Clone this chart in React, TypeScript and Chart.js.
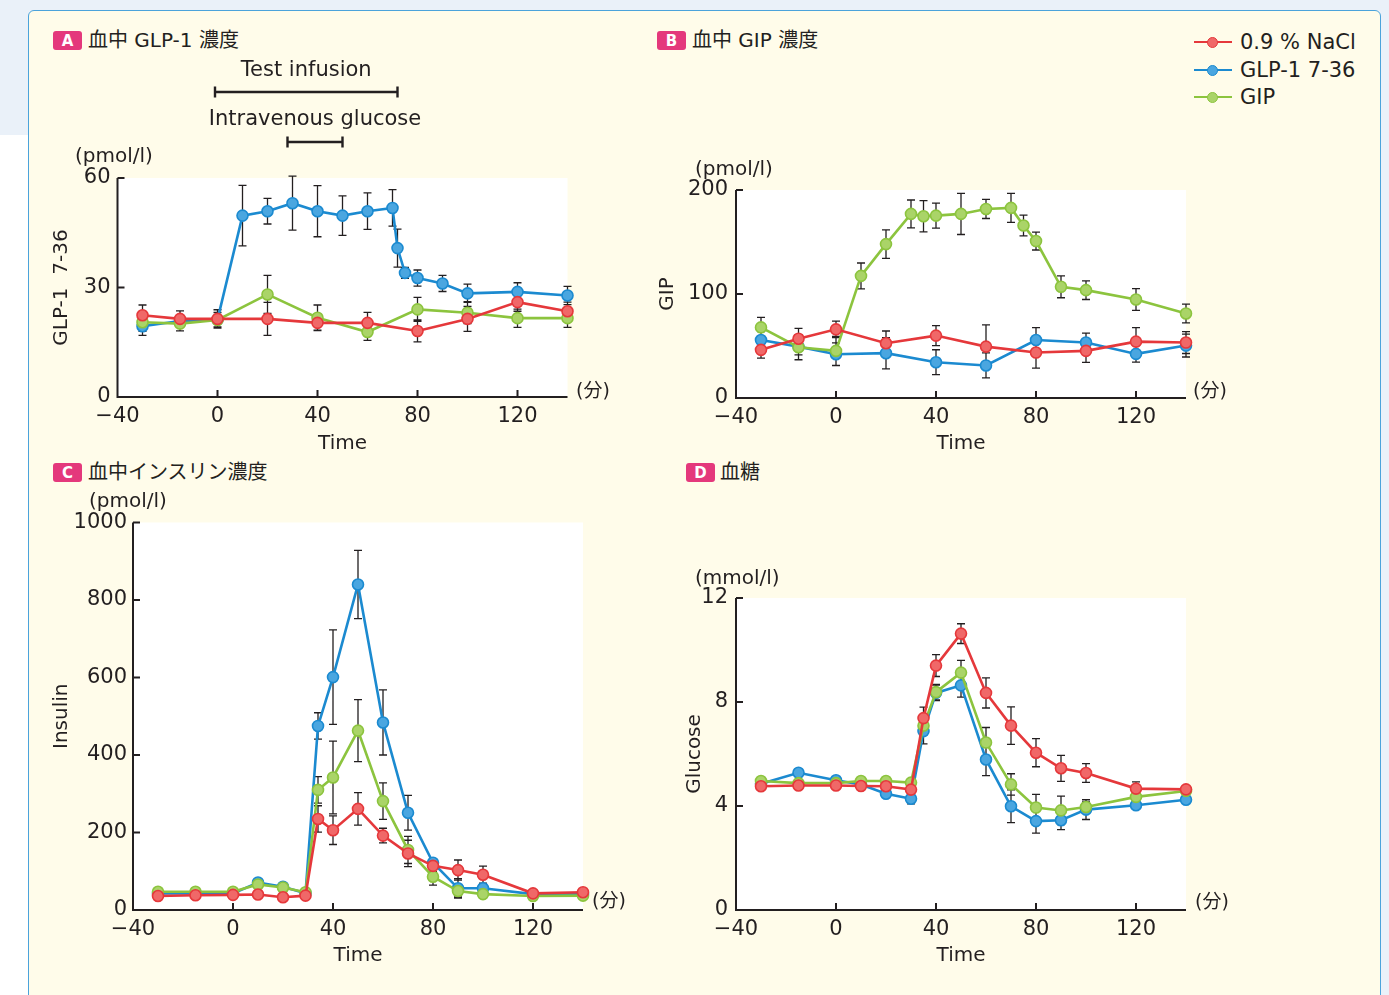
import React, { useEffect, useRef } from "react";
import { Chart, registerables } from "chart.js";

Chart.register(...registerables);

const FONT = '"DejaVu Sans", "Noto Sans CJK JP", sans-serif';
const INK = "#231f20";

const RED = "#e5383b";
const RED_FILL = "#f06868";
const BLUE = "#1b8ad0";
const BLUE_FILL = "#4aa6e0";
const GREEN = "#8cc43e";
const GREEN_FILL = "#aad468";

const seriesLabels = ["0.9 % NaCl", "GLP-1 7-36", "GIP"];
const xTickValues = [-40, 0, 40, 80, 120];
const X_MIN = -40;
const X_MAX = 140;

// ---- Panel A: GLP-1 ----
const aTimesNacl = [-30, -15, 0, 20, 40, 60, 80, 100, 120, 140];
const aNacl = [22.4, 21.4, 21.4, 21.4, 20.3, 20.3, 18.1, 21.4, 26.0, 23.5];
const aNaclErr = [2.8, 2.2, 2.5, 4.5, 2, 2.9, 3, 3.4, 2.5, 2.5];
const aTimesGlp = [-30, -15, 0, 10, 20, 30, 40, 50, 60, 70, 72, 75, 80, 90, 100, 120, 140];
const aGlp = [19.4, 20.8, 21.2, 49.7, 50.9, 53.1, 50.9, 49.7, 50.9, 51.8, 40.8, 34.0, 32.6, 31.1, 28.4, 28.8, 27.8];
const aGlpErr = [2.5, 1.5, 2, 8.3, 3.5, 7.4, 7, 5.4, 5, 5, 5.2, 1.5, 2.2, 2.2, 2.5, 2.5, 2.5];
const aTimesGip = [-30, -15, 0, 20, 40, 60, 80, 100, 120, 140];
const aGip = [20.5, 20.1, 21.1, 28.1, 21.7, 17.8, 24.0, 23.1, 21.6, 21.6];
const aGipErr = [2.5, 2, 2, 5.2, 3.5, 2.3, 3.3, 3, 2.5, 2.5];
const aYTicks = [0, 30, 60];
const testInfusion = [-1, 72];
const ivGlucose = [28, 50];

// ---- Panel B: GIP ----
const bTimesNacl = [-30, -15, 0, 20, 40, 60, 80, 100, 120, 140];
const bNacl = [46.3, 57, 66, 52.6, 60, 49.4, 43.7, 45.3, 54.2, 53.3];
const bNaclErr = [8, 10, 8, 11.8, 9.6, 21, 15, 11, 13.4, 10.5];
const bTimesGlp = [-30, -15, 0, 20, 40, 60, 80, 100, 120, 140];
const bGlp = [55.8, 49.4, 42.1, 43.1, 34.4, 31.3, 55.8, 53.3, 42.4, 50.4];
const bGlpErr = [8, 8, 11, 15, 12, 12, 11.8, 9, 8, 11];
const bTimesGip = [-30, -15, 0, 10, 20, 30, 35, 40, 50, 60, 70, 75, 80, 90, 100, 120, 140];
const bGip = [67.9, 48.8, 45.3, 117.4, 148, 177, 174.8, 175.4, 177, 181.8, 182.8, 165.9, 150.9, 106.9, 103.7, 94.7, 81.3];
const bGipErr = [9.6, 12, 14, 12.4, 13.7, 13.4, 15, 12, 19.8, 9.2, 14, 10, 8.6, 10.5, 9, 10.5, 9];
const bYTicks = [0, 100, 200];

// ---- Panel C: Insulin ----
const cTimes = [-30, -15, 0, 10, 20, 29, 34, 40, 50, 60, 70, 80, 90, 100, 120, 140];
const cNacl = [36, 38, 39, 40, 33, 37, 235, 206, 261, 192, 146, 114, 103, 91, 43, 46];
const cNaclErr = [5, 5, 5, 10, 10, 5, 34, 37, 42, 19, 34, 15, 26, 22, 5, 5];
const cGlp = [43, 43, 43, 71, 60, 43, 475, 601, 840, 484, 251, 122, 56, 56, 41, 41];
const cGlpErr = [5, 5, 5, 10, 10, 5, 34, 122, 88, 84, 45, 10, 25, 10, 5, 5];
const cGip = [47, 47, 47, 66, 58, 46, 310, 342, 463, 281, 155, 86, 49, 41, 36, 37];
const cGipErr = [8, 8, 8, 10, 10, 8, 34, 94, 80, 47, 35, 22, 15, 10, 5, 5];
const cYTicks = [0, 200, 400, 600, 800, 1000];

// ---- Panel D: Glucose ----
const dTimes = [-30, -15, 0, 10, 20, 30, 35, 40, 50, 60, 70, 80, 90, 100, 120, 140];
const dNacl = [4.76, 4.79, 4.79, 4.77, 4.76, 4.63, 7.38, 9.4, 10.63, 8.35, 7.09, 6.05, 5.45, 5.27, 4.67, 4.64];
const dNaclErr = [0.08, 0.08, 0.08, 0.08, 0.3, 0.1, 0.42, 0.42, 0.38, 0.58, 0.72, 0.54, 0.5, 0.36, 0.26, 0.12];
const dGlp = [4.86, 5.28, 4.99, 4.83, 4.47, 4.28, 6.88, 8.35, 8.64, 5.79, 3.99, 3.42, 3.45, 3.86, 4.03, 4.24];
const dGlpErr = [0.08, 0.08, 0.08, 0.08, 0.1, 0.2, 0.49, 0.3, 0.45, 0.62, 0.63, 0.46, 0.36, 0.38, 0.1, 0.1];
const dGip = [4.96, 4.88, 4.88, 4.96, 4.96, 4.9, 7.09, 8.38, 9.13, 6.44, 4.83, 3.94, 3.83, 3.96, 4.35, 4.58];
const dGipErr = [0.08, 0.08, 0.08, 0.08, 0.1, 0.1, 0.35, 0.3, 0.47, 0.58, 0.41, 0.51, 0.55, 0.2, 0.2, 0.1];
const dYTicks = [0, 4, 8, 12];

function makeDataset(label: string, times: number[], values: number[], errors: number[], color: string, fill: string) {
  return {
    label,
    data: times.map((t, i) => ({ x: t, y: values[i] })),
    errors,
    borderColor: color,
    backgroundColor: fill,
    pointBackgroundColor: fill,
    pointBorderColor: color,
    pointRadius: 5.5,
    pointHoverRadius: 5.5,
    pointBorderWidth: 1.6,
    borderWidth: 2.6,
    tension: 0,
    clip: false as any,
  };
}

const decorPlugin = {
  id: "decor",
  beforeDraw(chart: any) {
    const { ctx, chartArea: ca } = chart;
    ctx.save();
    ctx.fillStyle = "#ffffff";
    ctx.fillRect(ca.left, ca.top, ca.right - ca.left, ca.bottom - ca.top);
    ctx.restore();
  },
  beforeDatasetsDraw(chart: any, _args: any, opts: any) {
    const { ctx, chartArea: ca } = chart;
    const x = chart.scales.x;
    const y = chart.scales.y;
    ctx.save();
    ctx.strokeStyle = INK;
    ctx.lineWidth = 2;
    ctx.beginPath();
    ctx.moveTo(ca.left, ca.top);
    ctx.lineTo(ca.left, ca.bottom);
    ctx.lineTo(ca.right, ca.bottom);
    for (const v of xTickValues) {
      if (v > X_MIN) {
        const px = x.getPixelForValue(v);
        ctx.moveTo(px, ca.bottom);
        ctx.lineTo(px, ca.bottom - 7);
      }
    }
    for (const v of opts.yTicks || []) {
      if (v > y.min) {
        const py = y.getPixelForValue(v);
        ctx.moveTo(ca.left, py);
        ctx.lineTo(ca.left + 7, py);
      }
    }
    ctx.stroke();
    // error bars
    ctx.lineWidth = 1.3;
    ctx.beginPath();
    chart.data.datasets.forEach((ds: any) => {
      ds.data.forEach((p: any, j: number) => {
        const e = ds.errors[j];
        const px = x.getPixelForValue(p.x);
        const t = y.getPixelForValue(p.y + e);
        const b = y.getPixelForValue(p.y - e);
        ctx.moveTo(px, t);
        ctx.lineTo(px, b);
        ctx.moveTo(px - 4, t);
        ctx.lineTo(px + 4, t);
        ctx.moveTo(px - 4, b);
        ctx.lineTo(px + 4, b);
      });
    });
    ctx.stroke();
    ctx.restore();
  },
  afterDraw(chart: any, _args: any, opts: any) {
    const { ctx } = chart;
    const x = chart.scales.x;
    ctx.save();
    ctx.fillStyle = INK;
    ctx.textBaseline = "middle";
    for (const t of opts.texts || []) {
      ctx.font = `${t.size}px ${FONT}`;
      ctx.textAlign = t.align || "left";
      ctx.fillText(t.text, t.x, t.y);
    }
    for (const s of opts.spans || []) {
      const x0 = x.getPixelForValue(s.range[0]);
      const x1 = x.getPixelForValue(s.range[1]);
      ctx.strokeStyle = INK;
      ctx.lineWidth = 2.4;
      ctx.beginPath();
      ctx.moveTo(x0, s.y);
      ctx.lineTo(x1, s.y);
      ctx.moveTo(x0, s.y - 5.5);
      ctx.lineTo(x0, s.y + 5.5);
      ctx.moveTo(x1, s.y - 5.5);
      ctx.lineTo(x1, s.y + 5.5);
      ctx.stroke();
      ctx.font = `21px ${FONT}`;
      ctx.textAlign = "center";
      ctx.fillText(s.label, (x0 + x1) / 2, s.labelY);
    }
    ctx.restore();
  },
};

type PanelSpec = {
  w: number;
  h: number;
  area: { left: number; top: number; right: number; bottom: number };
  datasets: any[];
  yMax: number;
  yTicks: number[];
  yTitle: string;
  yTitlePad: number;
  xTitlePad: number;
  yLabelPad: number;
  texts: any[];
  spans?: any[];
};

function buildConfig(p: PanelSpec): any {
  const tickFont = { family: FONT, size: 21 };
  const titleFont = { family: FONT, size: 20 };
  return {
    type: "line",
    data: { datasets: p.datasets },
    plugins: [decorPlugin],
    options: {
      animation: false,
      responsive: false,
      maintainAspectRatio: false,
      events: [],
      layout: { padding: { left: 0, top: p.area.top, right: p.w - p.area.right, bottom: 0 } },
      plugins: {
        legend: { display: false },
        tooltip: { enabled: false },
        decor: { yTicks: p.yTicks, texts: p.texts, spans: p.spans || [] },
      },
      scales: {
        x: {
          type: "linear",
          min: X_MIN,
          max: X_MAX,
          afterBuildTicks: (s: any) => {
            s.ticks = xTickValues.map((v) => ({ value: v }));
          },
          afterFit: (s: any) => {
            s.height = p.h - p.area.bottom;
          },
          grid: { display: false, drawTicks: false },
          border: { display: false },
          ticks: {
            font: tickFont,
            color: INK,
            padding: 7,
            maxRotation: 0,
            autoSkip: false,
            callback: (v: any) => (v < 0 ? "\u2212" + Math.abs(v) : String(v)),
          },
          title: { display: true, text: "Time", font: titleFont, color: INK, padding: { top: 0, bottom: p.xTitlePad } },
        },
        y: {
          type: "linear",
          min: 0,
          max: p.yMax,
          afterBuildTicks: (s: any) => {
            s.ticks = p.yTicks.map((v) => ({ value: v }));
          },
          afterFit: (s: any) => {
            s.width = p.area.left;
          },
          grid: { display: false, drawTicks: false },
          border: { display: false },
          ticks: {
            font: tickFont,
            color: INK,
            padding: p.yLabelPad,
            autoSkip: false,
            callback: (v: any) => String(v),
          },
          title: { display: true, text: p.yTitle, font: titleFont, color: INK, padding: { top: p.yTitlePad, bottom: 0 } },
        },
      },
    },
  };
}

function ChartCanvas({ left, top, spec }: { left: number; top: number; spec: PanelSpec }) {
  const ref = useRef<HTMLCanvasElement>(null);
  useEffect(() => {
    const chart = new Chart(ref.current as HTMLCanvasElement, buildConfig(spec));
    return () => chart.destroy();
  }, []);
  return (
    <canvas
      ref={ref}
      width={spec.w}
      height={spec.h}
      style={{ position: "absolute", left, top, width: spec.w, height: spec.h }}
    />
  );
}

const specA: PanelSpec = {
  w: 600,
  h: 410,
  area: { left: 77.5, top: 128, right: 527.5, bottom: 347 },
  datasets: [
    makeDataset(seriesLabels[0], aTimesNacl, aNacl, aNaclErr, RED, RED_FILL),
    makeDataset(seriesLabels[2], aTimesGip, aGip, aGipErr, GREEN, GREEN_FILL),
    makeDataset(seriesLabels[1], aTimesGlp, aGlp, aGlpErr, BLUE, BLUE_FILL),
  ],
  yMax: 60,
  yTicks: aYTicks,
  yTitle: "GLP-1  7-36",
  yTitlePad: 10,
  xTitlePad: 4,
  yLabelPad: 7,
  texts: [
    { text: "(pmol/l)", x: 35, y: 107, size: 20 },
    { text: "(分)", x: 536, y: 342, size: 19 },
  ],
  spans: [
    { range: testInfusion, y: 42, label: "Test infusion", labelY: 21 },
    { range: ivGlucose, y: 92, label: "Intravenous glucose", labelY: 70 },
  ],
};

const specB: PanelSpec = {
  w: 600,
  h: 320,
  area: { left: 86, top: 50, right: 536, bottom: 258 },
  datasets: [
    makeDataset(seriesLabels[0], bTimesNacl, bNacl, bNaclErr, RED, RED_FILL),
    makeDataset(seriesLabels[2], bTimesGip, bGip, bGipErr, GREEN, GREEN_FILL),
    makeDataset(seriesLabels[1], bTimesGlp, bGlp, bGlpErr, BLUE, BLUE_FILL),
  ],
  yMax: 200,
  yTicks: bYTicks,
  yTitle: "GIP",
  yTitlePad: 6,
  xTitlePad: 4,
  yLabelPad: 8,
  texts: [
    { text: "(pmol/l)", x: 45, y: 30, size: 20 },
    { text: "(分)", x: 543, y: 252, size: 19 },
  ],
};

const specC: PanelSpec = {
  w: 600,
  h: 495,
  area: { left: 93, top: 42.5, right: 543, bottom: 430 },
  datasets: [
    makeDataset(seriesLabels[0], cTimes, cNacl, cNaclErr, RED, RED_FILL),
    makeDataset(seriesLabels[2], cTimes, cGip, cGipErr, GREEN, GREEN_FILL),
    makeDataset(seriesLabels[1], cTimes, cGlp, cGlpErr, BLUE, BLUE_FILL),
  ],
  yMax: 1000,
  yTicks: cYTicks,
  yTitle: "Insulin",
  yTitlePad: 10,
  xTitlePad: 7,
  yLabelPad: 6,
  texts: [
    { text: "(pmol/l)", x: 49, y: 22, size: 20 },
    { text: "(分)", x: 552, y: 422, size: 19 },
  ],
};

const specD: PanelSpec = {
  w: 600,
  h: 415,
  area: { left: 86, top: 38, right: 536, bottom: 350 },
  datasets: [
    makeDataset(seriesLabels[0], dTimes, dNacl, dNaclErr, RED, RED_FILL),
    makeDataset(seriesLabels[2], dTimes, dGip, dGipErr, GREEN, GREEN_FILL),
    makeDataset(seriesLabels[1], dTimes, dGlp, dGlpErr, BLUE, BLUE_FILL),
  ],
  yMax: 12,
  yTicks: dYTicks,
  yTitle: "Glucose",
  yTitlePad: 33,
  xTitlePad: 7,
  yLabelPad: 8,
  texts: [
    { text: "(mmol/l)", x: 45, y: 19, size: 20 },
    { text: "(分)", x: 545, y: 343, size: 19 },
  ],
};

function Badge({ letter, left, top }: { letter: string; left: number; top: number }) {
  return (
    <div
      style={{
        position: "absolute",
        left,
        top,
        width: 29,
        height: 19,
        borderRadius: 3,
        background: "#e4387c",
        color: "#fff",
        font: `bold 15px ${FONT}`,
        display: "flex",
        alignItems: "center",
        justifyContent: "center",
      }}
    >
      {letter}
    </div>
  );
}

function Title({ text, left, cy }: { text: string; left: number; cy: number }) {
  return (
    <div
      style={{
        position: "absolute",
        left,
        top: cy - 12,
        height: 24,
        lineHeight: "24px",
        fontSize: 20,
        fontFamily: FONT,
        color: INK,
        whiteSpace: "nowrap",
      }}
    >
      {text}
    </div>
  );
}

const legendColors = [
  [RED, RED_FILL],
  [BLUE, BLUE_FILL],
  [GREEN, GREEN_FILL],
];
const legendRows = [42, 70, 97];

export default function App() {
  return (
    <div
      style={{
        position: "absolute",
        left: 0,
        top: 0,
        width: 1389,
        height: 995,
        overflow: "hidden",
        background: "#ffffff",
        fontFamily: FONT,
      }}
    >
      <div style={{ position: "absolute", left: 0, top: 0, width: 1389, height: 135, background: "#eaf1f9" }} />
      <div style={{ position: "absolute", left: 1380, top: 0, width: 9, height: 995, background: "#eaf1f9" }} />
      <div
        style={{
          position: "absolute",
          left: 28,
          top: 10,
          width: 1353,
          height: 1020,
          boxSizing: "border-box",
          background: "#fffcea",
          border: "1.5px solid #4ba3db",
          borderRadius: 6,
        }}
      />
      <Badge letter="A" left={53} top={31} />
      <Title text="血中 GLP-1 濃度" left={88} cy={40} />
      <Badge letter="B" left={657} top={31} />
      <Title text="血中 GIP 濃度" left={692} cy={40} />
      <Badge letter="C" left={53} top={463} />
      <Title text="血中インスリン濃度" left={88} cy={472} />
      <Badge letter="D" left={686} top={463} />
      <Title text="血糖" left={720} cy={472} />

      {seriesLabels.map((label, i) => (
        <React.Fragment key={label}>
          <div
            style={{
              position: "absolute",
              left: 1194,
              top: legendRows[i] - 1.25,
              width: 38,
              height: 2.5,
              background: legendColors[i][0],
            }}
          />
          <div
            style={{
              position: "absolute",
              left: 1206.5,
              top: legendRows[i] - 5.5,
              width: 11,
              height: 11,
              boxSizing: "border-box",
              borderRadius: "50%",
              background: legendColors[i][1],
              border: `1.6px solid ${legendColors[i][0]}`,
            }}
          />
          <div
            style={{
              position: "absolute",
              left: 1240,
              top: legendRows[i] - 12,
              height: 24,
              lineHeight: "24px",
              fontSize: 21,
              color: INK,
              whiteSpace: "nowrap",
            }}
          >
            {label}
          </div>
        </React.Fragment>
      ))}

      <ChartCanvas left={40} top={50} spec={specA} />
      <ChartCanvas left={650} top={140} spec={specB} />
      <ChartCanvas left={40} top={480} spec={specC} />
      <ChartCanvas left={650} top={560} spec={specD} />
    </div>
  );
}
